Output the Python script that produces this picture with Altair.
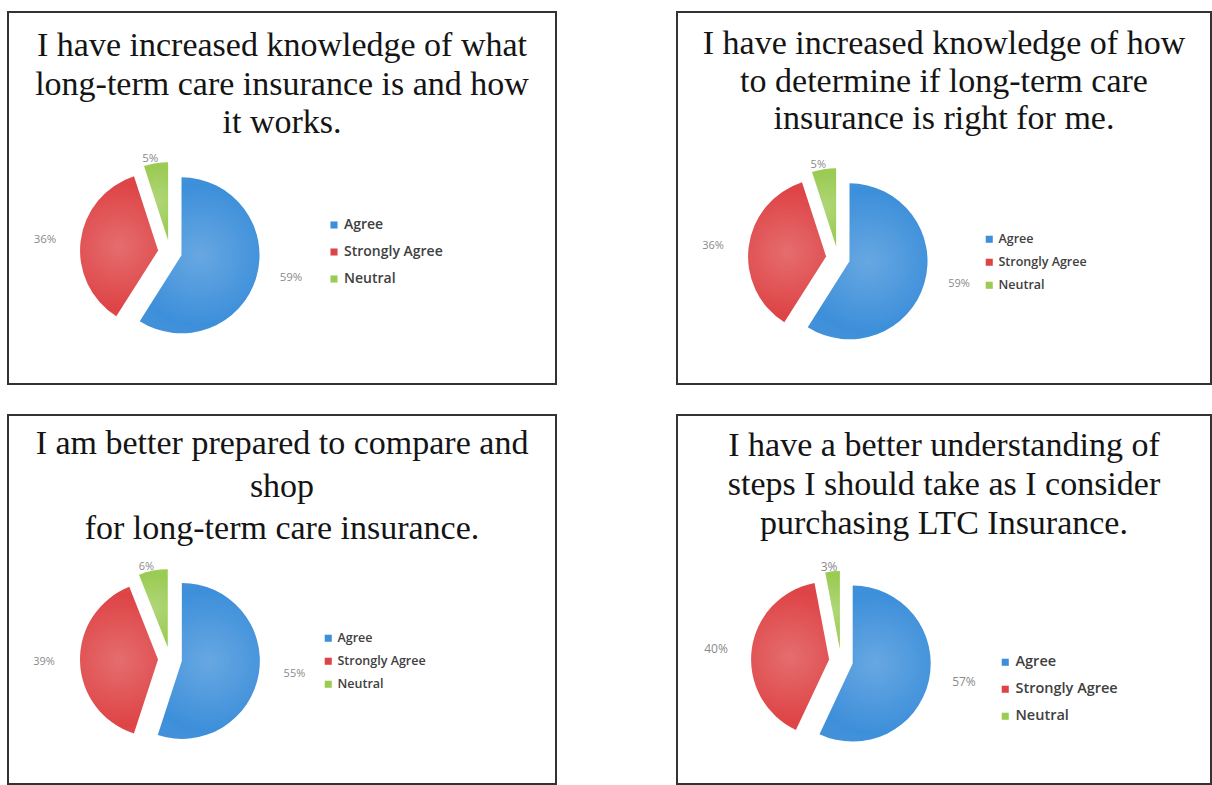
import altair as alt
import pandas as pd

# ---------------- data ----------------
categories = ["Agree", "Strongly Agree", "Neutral"]
slice_order = [0, 1, 2]
colors = ["#3D8FDA", "#DE4446", "#9ACB52"]

panel_titles = [
    "I have increased knowledge of what\nlong-term care insurance is and how\nit works.",
    "I have increased knowledge of how\nto determine if long-term care\ninsurance is right for me.",
    "I am better prepared to compare and\nshop\nfor long-term care insurance.",
    "I have a better understanding of\nsteps I should take as I consider\npurchasing LTC Insurance.",
]

q1_values = [59, 36, 5]
q2_values = [59, 36, 5]
q3_values = [55, 39, 6]
q4_values = [57, 40, 3]
panel_values = [q1_values, q2_values, q3_values, q4_values]

# ---------------- layout (per panel) ----------------
layouts = [
    dict(w=548, h=372, cx=162, cy=240, ty=17, tlh=38.5, lx=319, ly=206, lf=14, lr=13, pf=11.5),
    dict(w=534, h=372, cx=161, cy=246, ty=15, tlh=37.5, lx=306, ly=221, lf=12.5, lr=10, pf=11),
    dict(w=548, h=369, cx=162, cy=244, ty=12, tlh=42.5, lx=314, ly=217, lf=12.5, lr=10, pf=11),
    dict(w=534, h=369, cx=164, cy=246, ty=14, tlh=39, lx=321, ly=240, lf=14.5, lr=12, pf=12),
]

PIE_R = 78
EXPLODE = 12
LABEL_A = 126
LABEL_B = 94


def make_panel(i):
    L = layouts[i]
    df = pd.DataFrame({"category": categories, "value": panel_values[i], "order": slice_order})
    base = (
        alt.Chart(df)
        .transform_joinaggregate(total="sum(value)")
        .transform_window(cum="sum(value)", sort=[alt.SortField("order")], frame=[None, 0])
        .transform_calculate(
            t0="(datum.cum - datum.value) / datum.total * 2 * PI",
            t1="datum.cum / datum.total * 2 * PI",
        )
        .transform_calculate(mid="(datum.t0 + datum.t1) / 2")
        .transform_calculate(
            ex=f"{L['cx']} + {EXPLODE} * sin(datum.mid)",
            ey=f"{L['cy']} - {EXPLODE} * cos(datum.mid)",
            lx=f"{L['cx']} + {LABEL_A} * sin(datum.mid)",
            ly=f"{L['cy']} - {LABEL_B} * cos(datum.mid)",
            label="datum.value + '%'",
        )
    )

    geo = dict(
        x=alt.X("ex:Q", scale=None, axis=None),
        y=alt.Y("ey:Q", scale=None, axis=None),
        theta=alt.Theta("t0:Q", scale=None, stack=None),
        theta2="t1:Q",
    )

    arcs = base.mark_arc(radius=PIE_R).encode(
        color=alt.Color(
            "category:N",
            scale=alt.Scale(domain=categories, range=colors),
            legend=alt.Legend(
                title=None,
                orient="none",
                legendX=L["lx"],
                legendY=L["ly"],
                symbolType="square",
                symbolSize=50,
                symbolStrokeWidth=0,
                labelFont="Open Sans",
                labelFontWeight=600,
                labelFontSize=L["lf"],
                labelColor="#404040",
                labelOffset=3,
                rowPadding=L["lr"],
                padding=0,
            ),
        ),
        order=alt.Order("order:Q"),
        **geo,
    )

    shade = base.mark_arc(
        radius=PIE_R,
        fill=alt.RadialGradient(
            gradient="radial",
            x1=0.5, y1=0.5, r1=0.0,
            x2=0.5, y2=0.5, r2=0.75,
            stops=[
                alt.GradientStop(color="rgba(255,255,255,0.22)", offset=0),
                alt.GradientStop(color="rgba(255,255,255,0.0)", offset=0.6),
                alt.GradientStop(color="rgba(0,0,0,0.14)", offset=1),
            ],
        ),
    ).encode(**geo)

    labels = base.mark_text(
        font="Open Sans", fontSize=L["pf"], color="#8a8a8a", align="center", baseline="middle"
    ).encode(
        x=alt.X("lx:Q", scale=None, axis=None),
        y=alt.Y("ly:Q", scale=None, axis=None),
        text="label:N",
    )

    title = alt.Chart(pd.DataFrame({"t": [panel_titles[i]]})).mark_text(
        font="Liberation Serif",
        fontSize=34,
        lineBreak="\n",
        lineHeight=L["tlh"],
        align="center",
        baseline="top",
        color="#141414",
    ).encode(
        x=alt.value(L["w"] / 2),
        y=alt.value(L["ty"]),
        text="t:N",
    )

    return alt.layer(title, arcs, shade, labels).properties(width=L["w"], height=L["h"])


p1, p2, p3, p4 = [make_panel(i) for i in range(4)]

row1 = alt.hconcat(p1, p2, spacing=119).resolve_scale(color="independent").resolve_legend(color="independent")
row2 = alt.hconcat(p3, p4, spacing=119).resolve_scale(color="independent").resolve_legend(color="independent")

chart = (
    alt.vconcat(row1, row2, spacing=29)
    .resolve_scale(color="independent")
    .resolve_legend(color="independent")
    .properties(padding={"left": 7, "top": 11, "right": 0, "bottom": 0}, background="#ffffff")
    .configure_view(stroke="#333333", strokeWidth=2, fill="#ffffff")
)

chart.save("out.html", embed_options={"renderer": "svg", "actions": False})
